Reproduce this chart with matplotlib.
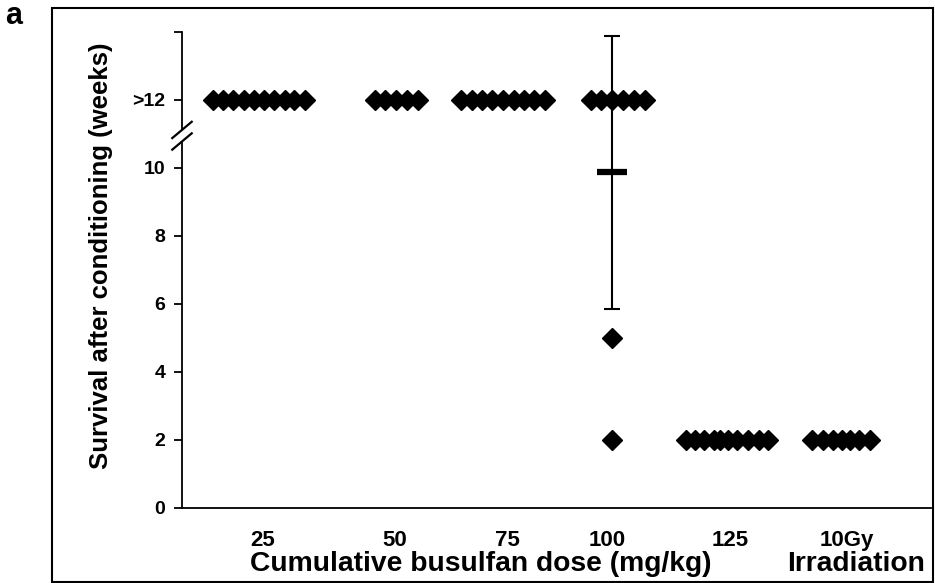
import numpy as np
import matplotlib
matplotlib.use("Agg")
import matplotlib.pyplot as plt
from matplotlib.patches import Rectangle

plt.rcParams['font.family'] = ['Liberation Sans', 'DejaVu Sans']
plt.rcParams['font.weight'] = 'bold'

# group labels and where they sit on the x axis
groups = ["25", "50", "75", "100", "125", "10Gy"]
group_pos = [0.75, 1.99, 3.04, 3.97, 5.12, 6.21]

# x positions (spread within each group) and survival in weeks (12 = ">12")
x_25 = [0.29, 0.38, 0.48, 0.58, 0.67, 0.77, 0.86, 0.96, 1.05, 1.15]
y_25 = [12] * 10
x_50 = [1.80, 1.90, 2.00, 2.10, 2.21]
y_50 = [12] * 5
x_75 = [2.61, 2.71, 2.80, 2.90, 3.00, 3.10, 3.20, 3.29, 3.39]
y_75 = [12] * 9
x_100 = [3.82, 3.92, 4.02, 4.12, 4.22, 4.33, 4.02, 4.02]
y_100 = [12, 12, 12, 12, 12, 12, 5, 2]
x_125 = [4.71, 4.79, 4.88, 4.97, 5.03, 5.10, 5.19, 5.29, 5.39, 5.48]
y_125 = [2] * 10
x_irr = [5.89, 5.99, 6.08, 6.17, 6.24, 6.33, 6.43]
y_irr = [2] * 7

mean_x_100 = 4.02

fig = plt.figure(figsize=(9.35, 5.83), dpi=100)
ax = fig.add_axes([182 / 935, 1 - 508 / 583, 749 / 935, 476 / 583])

for xs, ys in [(x_25, y_25), (x_50, y_50), (x_75, y_75), (x_100, y_100), (x_125, y_125), (x_irr, y_irr)]:
    ax.plot(xs, ys, linestyle='none', marker='D', markersize=10.5, color='black', zorder=3)

# mean +/- SD for the 100 mg/kg group
m = np.mean(y_100)
sd = np.std(y_100, ddof=1)
ax.errorbar([mean_x_100], [m], yerr=[sd], fmt='none', ecolor='black', elinewidth=1.5,
            capsize=6, capthick=1.5, zorder=2)
ax.plot([mean_x_100], [m], marker='_', markersize=21, markeredgewidth=4.5, color='black', zorder=4)

ax.set_xlim(0, 7)
ax.set_ylim(0, 14)

ax.spines['top'].set_visible(False)
ax.spines['right'].set_visible(False)
ax.spines['left'].set_visible(False)
ax.spines['bottom'].set_linewidth(1.3)

# left axis drawn in two pieces with a break mark
yt = ax.get_yaxis_transform()
ax.plot([0, 0], [0, 10.75], color='black', lw=1.3, transform=yt, clip_on=False)
ax.plot([0, 0], [11.15, 14], color='black', lw=1.3, transform=yt, clip_on=False)
for dy in [10.78, 11.12]:
    ax.plot([-0.013, 0.013], [dy - 0.24, dy + 0.24], color='black', lw=1.6,
            transform=yt, clip_on=False)

ax.set_yticks([0, 2, 4, 6, 8, 10, 12, 14])
ax.set_yticklabels(['0', '2', '4', '6', '8', '10', '>12', ''], fontsize=14, fontweight='bold')
ax.tick_params(axis='y', direction='out', length=6, width=1.3, pad=6)

ax.set_xticks(group_pos)
ax.set_xticklabels(groups, fontsize=16, fontweight='bold')
ax.tick_params(axis='x', length=0, pad=16)

ax.set_ylabel('Survival after conditioning (weeks)', fontsize=18.5, fontweight='bold')
ax.yaxis.set_label_coords(-0.092, 0.53)

ax.text(0.399, -0.117, 'Cumulative busulfan dose (mg/kg)', transform=ax.transAxes,
        ha='center', va='center', fontsize=20.3, fontweight='bold')
ax.text(0.90, -0.117, 'Irradiation', transform=ax.transAxes,
        ha='center', va='center', fontsize=20.3, fontweight='bold')

# outer frame and panel letter
fig.patches.append(Rectangle((52 / 935, 1 / 583), 881 / 935, 574 / 583, transform=fig.transFigure,
                             fill=False, edgecolor='black', linewidth=1.5))
fig.text(14 / 935, 1 - 16 / 583, 'a', ha='center', va='center', fontsize=22, fontweight='bold')

fig.savefig('out.png', dpi=100)
